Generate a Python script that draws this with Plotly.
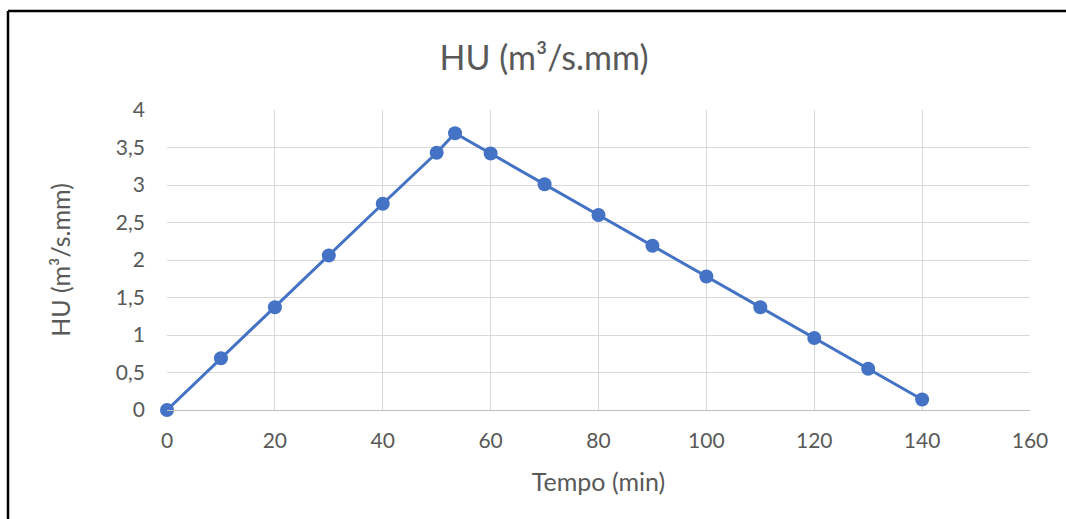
import plotly.graph_objects as go

tempo = [0, 10, 20, 30, 40, 50, 53.4, 60, 70, 80, 90, 100, 110, 120, 130, 140]
hu = [0, 0.69, 1.37, 2.06, 2.75, 3.43, 3.69, 3.42, 3.01, 2.60, 2.19, 1.78, 1.37, 0.96, 0.55, 0.14]

x_ticks = [0, 20, 40, 60, 80, 100, 120, 140, 160]
y_ticks = [0, 0.5, 1, 1.5, 2, 2.5, 3, 3.5, 4]
y_tick_labels = ["0", "0,5", "1", "1,5", "2", "2,5", "3", "3,5", "4"]

FONT = "Lato, 'Open Sans', sans-serif"
GREY = "#595959"

fig = go.Figure()
fig.add_trace(go.Scatter(
    x=tempo, y=hu, mode="lines+markers",
    line=dict(color="#4472C4", width=3),
    marker=dict(color="#4472C4", size=14),
    cliponaxis=False, showlegend=False,
))

L, R, T, B = 167, 36, 110, 109
W, H = 1066, 519
pw, ph = W - L - R, H - T - B

fig.update_layout(
    width=W, height=H,
    margin=dict(l=L, r=R, t=T, b=B),
    paper_bgcolor="white", plot_bgcolor="white",
    font=dict(family=FONT, color=GREY),
    title=dict(text="HU (m³/s.mm)", x=544 / W, xref="container", xanchor="center",
               y=(H - 58) / H, yref="container", yanchor="middle",
               font=dict(size=34, color=GREY, family=FONT)),
    xaxis=dict(range=[0, 160], tickvals=x_ticks, showgrid=True, gridcolor="#d9d9d9",
               gridwidth=1, zeroline=False, showline=True, linecolor="#bfbfbf",
               linewidth=1, mirror=False, ticks="", tickfont=dict(size=21, color=GREY),
               ticklabelstandoff=12,
               title=dict(text="Tempo (min)", font=dict(size=25, color=GREY), standoff=22)),
    yaxis=dict(range=[0, 4], tickvals=y_ticks, ticktext=y_tick_labels, showgrid=True,
               gridcolor="#d9d9d9", gridwidth=1, zeroline=False, showline=False,
               ticks="", tickfont=dict(size=21, color=GREY), ticklabelstandoff=21,
               title=dict(text="HU (m³/s.mm)", font=dict(size=25, color=GREY), standoff=38)),
)

# outer border (top and left edges visible)
x_left = (8 - L) / pw
y_top = (H - B - 11) / ph
fig.add_shape(type="line", xref="paper", yref="paper", x0=x_left, x1=(W + 10 - L) / pw,
              y0=y_top, y1=y_top, line=dict(color="black", width=2.5))
fig.add_shape(type="line", xref="paper", yref="paper", x0=x_left, x1=x_left,
              y0=y_top, y1=(H - B - H - 10) / ph, line=dict(color="black", width=2.5))

fig.write_html("out.html")
